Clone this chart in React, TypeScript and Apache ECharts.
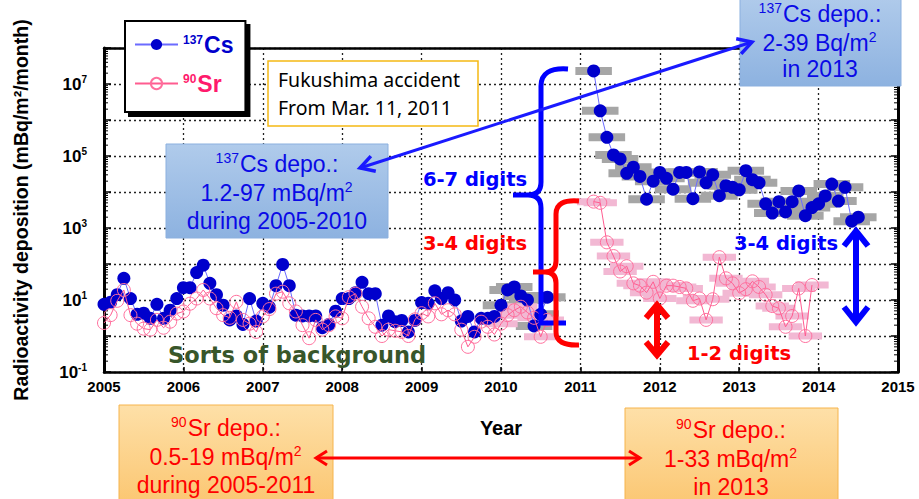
import { useEffect, useRef } from 'react';
import * as echarts from 'echarts';

// ---------------- data ----------------
const xTickYears = [2005, 2006, 2007, 2008, 2009, 2010, 2011, 2012, 2013, 2014, 2015];
const yLabelExponents = [-1, 1, 3, 5, 7];

// monthly deposition (mBq/m2/month), first value = Jan 2005
const bgStartYear = 2005;
const csBackground = [
  7.6, 8.7, 14, 40, 11, 4.0, 4.3, 3.1, 7.6, 3.1, 5.2, 11,
  22, 22, 58, 93, 29, 14, 7.2, 2.8, 3.6, 2.1, 11, 2.6,
  8.1, 6.3, 25, 97, 25, 3.8, 3.6, 3.6, 3.6, 1.7, 2.1, 4.9,
  11, 11, 16, 31, 15, 15, 2.0, 3.6, 2.5, 2.7, 1.3, 2.7,
  8.5, 8.1, 18, 11, 16, 10, 2.6, 3.5, 1.3, 3.1, 3.1, 3.5,
  7.2, 19, 23, 13, 10, 1.9, 4.0, 12,
];
const srBackground = [
  2.3, 3.8, 9.5, 19, 3.8, 2.2, 1.6, 1.5, 2.8, 1.7, 2.5, 4.2,
  4.8, 7.9, 11, 19, 11, 5.9, 3.8, 3.2, 8.9, 2.8, 2.2, 1.3,
  3.5, 5.6, 15, 17, 8.1, 4.8, 2.0, 0.87, 2.8, 1.5, 2.0, 3.5,
  3.1, 12, 15, 6.5, 3.1, 1.8, 1.0, 1.5, 1.4, 1.3, 1.0, 2.9,
  4.3, 3.5, 8.1, 4.0, 5.2, 4.0, 1.5, 0.5, 0.95, 2.5, 1.8, 1.1,
  2.2, 3.8, 5.2, 6.5, 4.5, 3.2, 0.95, 2.8,
];
// first value = Mar 2011
const afterStartYear = 2011 + 2 / 12;
const csAfter = [
  2.3e7, 1.8e6, 3.3e5, 1.07e5, 8.3e4, 3.3e4, 4.9e4, 2.7e4, 6.3e3, 2.0e4,
  3.5e4, 2.4e4, 1.2e4, 3.5e4, 3.5e4, 6.5e3, 3.6e4, 1.8e4, 3.0e4, 7.9e3, 1.5e4, 1.35e4,
  1.15e4, 3.9e4, 2.2e4, 1.8e4, 4.7e3, 2.6e3, 5.4e3, 2.8e3, 5.4e3, 1.07e4, 2.2e3, 3.7e3,
  4.7e3, 7.8e3, 1.66e4, 5.6e3, 1.35e4, 1.55e3, 2.0e3,
];
const srAfter = [
  5400, 5000, 400, 166, 62, 87, 29, 25, 16, 32,
  11, 25, 25, 23, 21, 9.5, 11, 2.8, 10.5, 155, 40, 29,
  15.5, 20, 33, 23, 14, 6.8, 5.9, 1.8, 3.6, 21, 1.0, 26,
];
// background months from which the site-range bars are shown (2010 onward)
const barsFromIndex = 60;

// ---------------- helpers ----------------
const monthly = (start: number, vals: number[]) =>
  vals.map((v, i) => [+(start + i / 12).toFixed(5), v]);

const FONT = "'Liberation Sans', Arial, sans-serif";
const NARROW = "'Liberation Sans Narrow', 'Liberation Sans', Arial, sans-serif";
const WIDE = "'DejaVu Sans', 'Liberation Sans', sans-serif";

let registered = false;
function registerBraces() {
  if (registered) return;
  registered = true;
  echarts.graphic.registerShape(
    'braceBlue',
    echarts.graphic.extendPath(
      'M568 69 Q541 67 541 86 L541 182 Q541 195 528 195 L513 195 M528 195 Q541 195 541 208 L541 323 L566 323',
      {}
    )
  );
  echarts.graphic.registerShape(
    'braceRed',
    echarts.graphic.extendPath(
      'M579 201 Q556 199 556 214 L556 261 Q556 272 545 272 L533 272 M545 272 Q556 272 556 283 L556 332 Q556 346 579 345',
      {}
    )
  );
}

function chevron(tx: number, ty: number, fx: number, fy: number, len: number, half: number) {
  const dx = tx - fx, dy = ty - fy;
  const L = Math.hypot(dx, dy);
  const ux = dx / L, uy = dy / L;
  const bx = tx - ux * len, by = ty - uy * len;
  const px = -uy, py = ux;
  return [[bx + px * half, by + py * half], [tx, ty], [bx - px * half, by - py * half]];
}
function doubleArrow(x1: number, y1: number, x2: number, y2: number, color: string, lw: number, len: number, half: number, hlw: number) {
  const st = { stroke: color, lineWidth: hlw, fill: null, lineJoin: 'miter', lineCap: 'butt' };
  return [
    { type: 'line', z: 60, shape: { x1, y1, x2, y2 }, style: { stroke: color, lineWidth: lw } },
    { type: 'polyline', z: 60, shape: { points: chevron(x1, y1, x2, y2, len, half) }, style: st },
    { type: 'polyline', z: 60, shape: { points: chevron(x2, y2, x1, y1, len, half) }, style: st },
  ];
}
function txt(x: number, y: number, text: string, fill: string, fontSize: number, extra: any = {}) {
  return {
    type: 'text', x, y, z: 70,
    style: {
      text, fill, fontSize, fontFamily: FONT, align: 'center', verticalAlign: 'middle', ...extra,
    },
  };
}
const supRich = (fill: string, big: number, small: number, family = FONT) => ({
  s: { fill, fontSize: small, fontFamily: family, padding: [0, 1, small * 0.9, 0] },
  n: { fill, fontSize: big, fontFamily: family },
});

export default function App() {
  const ref = useRef<HTMLDivElement>(null);
  useEffect(() => {
    if (!ref.current) return;
    registerBraces();
    const chart = echarts.init(ref.current, undefined, { renderer: 'svg' });

    const csBg = monthly(bgStartYear, csBackground);
    const srBg = monthly(bgStartYear, srBackground);
    const csAf = monthly(afterStartYear, csAfter);
    const srAf = monthly(afterStartYear, srAfter);
    const csBars = csBg.slice(barsFromIndex).concat(csAf);
    const srBars = srBg.slice(barsFromIndex).concat(srAf);

    const barRender = (color: string, halfYear: number, h: number) => (params: any, api: any) => {
      const x = api.value(0), v = api.value(1);
      const a = api.coord([x - halfYear, v]);
      const b = api.coord([x + halfYear, v]);
      return {
        type: 'rect',
        shape: { x: a[0], y: a[1] - h / 2, width: b[0] - a[0], height: h },
        style: { fill: color },
      };
    };

    const blueGrad = new echarts.graphic.LinearGradient(0, 0, 0, 1, [
      { offset: 0, color: '#b0cbeb' },
      { offset: 1, color: '#8db2e0' },
    ]);
    const orangeGrad = () =>
      new echarts.graphic.LinearGradient(0, 0, 0, 1, [
        { offset: 0, color: '#fee0a8' },
        { offset: 1, color: '#fbc671' },
      ]);

    const CS_BLUE = '#0a0ae6';
    const SR_RED = '#ff0000';
    const BF = 23; // box font
    const SF = 14; // box superscript font

    const graphic: any[] = [
      // Fukushima box
      { type: 'rect', z: 50, shape: { x: 268, y: 61, width: 210, height: 65 }, style: { fill: '#fff', stroke: '#f5b915', lineWidth: 1.5 } },
      txt(278, 79, 'Fukushima accident', '#000', 19.5, { align: 'left', fontFamily: "'Noto Sans', sans-serif" }),
      txt(278, 107, 'From Mar. 11, 2011', '#000', 19.5, { align: 'left', fontFamily: "'Noto Sans', sans-serif" }),
      // blue box left
      { type: 'rect', z: 50, shape: { x: 166, y: 144, width: 222, height: 94 }, style: { fill: blueGrad, stroke: '#8bb0df', lineWidth: 1 } },
      { type: 'text', x: 277, y: 164, z: 70, style: { text: '{s|137}{n|Cs depo.:}', rich: supRich(CS_BLUE, BF, SF), align: 'center', verticalAlign: 'middle' } },
      { type: 'text', x: 277, y: 193, z: 70, style: { text: '{n|1.2-97 mBq/m}{s|2}', rich: supRich(CS_BLUE, BF, SF), align: 'center', verticalAlign: 'middle' } },
      txt(277, 221, 'during 2005-2010', CS_BLUE, BF),
      // blue box top right
      { type: 'rect', z: 50, shape: { x: 740, y: -4, width: 161, height: 90 }, style: { fill: blueGrad, stroke: '#8bb0df', lineWidth: 1 } },
      { type: 'text', x: 820, y: 14, z: 70, style: { text: '{s|137}{n|Cs depo.:}', rich: supRich(CS_BLUE, BF, SF), align: 'center', verticalAlign: 'middle' } },
      { type: 'text', x: 820, y: 43, z: 70, style: { text: '{n|2-39 Bq/m}{s|2}', rich: supRich(CS_BLUE, BF, SF), align: 'center', verticalAlign: 'middle' } },
      txt(820, 69, 'in 2013', CS_BLUE, BF),
      // orange boxes
      { type: 'rect', z: 50, shape: { x: 119, y: 405, width: 214, height: 100 }, style: { fill: orangeGrad(), stroke: '#f6b44c', lineWidth: 1 } },
      { type: 'text', x: 226, y: 428, z: 70, style: { text: '{s|90}{n|Sr depo.:}', rich: supRich(SR_RED, BF, SF, NARROW), align: 'center', verticalAlign: 'middle' } },
      { type: 'text', x: 226, y: 457, z: 70, style: { text: '{n|0.5-19 mBq/m}{s|2}', rich: supRich(SR_RED, BF, SF, NARROW), align: 'center', verticalAlign: 'middle' } },
      txt(226, 485, 'during 2005-2011', SR_RED, BF, { fontFamily: NARROW }),
      { type: 'rect', z: 50, shape: { x: 625, y: 408, width: 213, height: 100 }, style: { fill: orangeGrad(), stroke: '#f6b44c', lineWidth: 1 } },
      { type: 'text', x: 731, y: 430, z: 70, style: { text: '{s|90}{n|Sr depo.:}', rich: supRich(SR_RED, BF, SF, NARROW), align: 'center', verticalAlign: 'middle' } },
      { type: 'text', x: 731, y: 459, z: 70, style: { text: '{n|1-33 mBq/m}{s|2}', rich: supRich(SR_RED, BF, SF, NARROW), align: 'center', verticalAlign: 'middle' } },
      txt(731, 487, 'in 2013', SR_RED, BF, { fontFamily: NARROW }),
      // braces
      { type: 'braceBlue', x: 0, y: 0, z: 55, style: { stroke: '#0000ff', lineWidth: 5, fill: null } },
      { type: 'braceRed', x: 0, y: 0, z: 56, style: { stroke: '#ff0000', lineWidth: 5, fill: null } },
      // labels
      txt(475, 179, '6-7 digits', '#0000ff', 19.5, { fontWeight: 'bold', fontFamily: WIDE }),
      txt(475, 243, '3-4 digits', '#ff0000', 19.5, { fontWeight: 'bold', fontFamily: WIDE }),
      txt(786, 243, '3-4 digits', '#0000ff', 19.5, { fontWeight: 'bold', fontFamily: WIDE }),
      txt(739, 353, '1-2 digits', '#ff0000', 19.5, { fontWeight: 'bold', fontFamily: WIDE }),
      txt(168, 355, 'Sorts of background', '#38562a', 22.5, { fontWeight: 'bold', align: 'left', fontFamily: WIDE }),
      // arrows
      ...doubleArrow(360, 168, 752, 42, '#1a1aff', 3, 14, 8, 3.5),
      ...doubleArrow(316, 458, 640, 458, '#ff0000', 3, 11, 7, 3),
      ...doubleArrow(657, 305, 657, 355, '#ff0000', 6, 13, 11, 6),
      ...doubleArrow(856, 231, 856, 322, '#0000ff', 6, 15, 12, 6),
    ];

    const option: any = {
      animation: false,
      backgroundColor: '#fff',
      textStyle: { fontFamily: FONT },
      grid: { left: 104, right: 21, top: 48, bottom: 127, containLabel: false, outerBoundsMode: 'none' },
      legend: {
        orient: 'vertical',
        left: 125,
        top: 21,
        padding: [12, 12, 17, 9],
        itemWidth: 43,
        itemHeight: 14,
        itemGap: 16,
        backgroundColor: '#fff',
        borderColor: '#000',
        borderWidth: 2,
        borderRadius: 0,
        shadowColor: '#000',
        shadowBlur: 0,
        shadowOffsetX: 4,
        shadowOffsetY: 4,
        data: ['137Cs', '90Sr'],
        formatter: (name: string) => (name === '137Cs' ? '{cs|137}{cb|Cs}' : '{ss|90}{sb|Sr}'),
        textStyle: {
          rich: {
            cs: { color: '#0000cc', fontSize: 12, fontWeight: 'bold', padding: [0, 1, 10, 0] },
            cb: { color: '#0000cc', fontSize: 23, fontWeight: 'bold' },
            ss: { color: '#ff1a6c', fontSize: 12, fontWeight: 'bold', padding: [0, 1, 10, 0] },
            sb: { color: '#ff1a6c', fontSize: 23, fontWeight: 'bold' },
          },
        },
      },
      xAxis: [
        {
          type: 'value',
          min: 2005,
          max: 2015,
          interval: 1,
          name: 'Year',
          nameLocation: 'middle',
          nameGap: 46,
          nameTextStyle: { fontSize: 20, fontWeight: 'bold', color: '#000', fontFamily: NARROW },
          axisLine: { show: true, onZero: false, lineStyle: { color: '#000', width: 2.5 } },
          axisTick: { show: true, inside: true, length: 5, lineStyle: { color: '#000', width: 1.5 } },
          axisLabel: {
            show: true,
            color: '#000',
            fontSize: 15,
            fontWeight: 'bold',
            fontFamily: NARROW,
            margin: 7,
            formatter: (v: number) => (xTickYears.includes(Math.round(v)) ? String(Math.round(v)) : ''),
          },
          splitLine: { show: true, lineStyle: { color: '#222', width: 1.3, type: [2, 3] } },
        },
        {
          type: 'value',
          position: 'top',
          min: 2005,
          max: 2015,
          interval: 1,
          axisLine: { show: true, onZero: false, lineStyle: { color: '#000', width: 2.5 } },
          axisTick: { show: false },
          axisLabel: { show: false },
          splitLine: { show: false },
        },
      ],
      yAxis: [
        {
          type: 'log',
          logBase: 10,
          min: 0.1,
          max: 1e8,
          name: 'Radioactivity deposition (mBq/m²/month)',
          nameLocation: 'middle',
          nameGap: 73,
          nameRotate: 90,
          nameTextStyle: { fontSize: 19.5, fontWeight: 'bold', color: '#000' },
          axisLine: { show: true, onZero: false, lineStyle: { color: '#000', width: 3 } },
          axisTick: { show: true, inside: true, length: 7, lineStyle: { color: '#000', width: 1.5 } },
          axisLabel: {
            show: true,
            margin: 17,
            formatter: (v: number) => {
              const e = Math.round(Math.log10(v));
              if (!yLabelExponents.includes(e)) return '';
              return '{b|10}{s|' + e + '}';
            },
            rich: {
              b: { fontSize: 17, fontWeight: 'bold', color: '#000' },
              s: { fontSize: 10, fontWeight: 'bold', color: '#000', padding: [0, 0, 10, 0] },
            },
          },
          splitLine: { show: true, lineStyle: { color: '#222', width: 1.3, type: [2, 3] } },
        },
        {
          type: 'log',
          logBase: 10,
          min: 0.1,
          max: 1e8,
          position: 'right',
          axisLine: { show: true, onZero: false, lineStyle: { color: '#000', width: 3 } },
          axisTick: { show: true, inside: true, length: 7, lineStyle: { color: '#000', width: 1.5 } },
          axisLabel: { show: false },
          splitLine: { show: false },
        },
      ],
      graphic,
      series: [
        {
          // logarithmic minor ticks on both frame sides
          type: 'custom',
          silent: true,
          z: 1,
          data: [-1, 0, 1, 2, 3, 4, 5, 6, 7].map((d) => [2005, Math.pow(10, d)]),
          renderItem: (params: any, api: any) => {
            const base = api.value(1);
            const cs = params.coordSys;
            const children: any[] = [];
            for (let k = 2; k <= 9; k++) {
              const y = api.coord([2005, base * k])[1];
              children.push({ type: 'line', shape: { x1: cs.x, y1: y, x2: cs.x + 4, y2: y }, style: { stroke: '#000', lineWidth: 1 } });
              children.push({ type: 'line', shape: { x1: cs.x + cs.width - 4, y1: y, x2: cs.x + cs.width, y2: y }, style: { stroke: '#000', lineWidth: 1 } });
            }
            return { type: 'group', children };
          },
        },
        {
          type: 'custom',
          name: 'Cs range',
          silent: true,
          z: 2,
          data: csBars,
          encode: { x: 0, y: 1 },
          renderItem: barRender('#a6a6a6', 0.23, 8),
        },
        {
          type: 'custom',
          name: 'Sr range',
          silent: true,
          z: 2,
          data: srBars,
          encode: { x: 0, y: 1 },
          renderItem: barRender('#f2b8d3', 0.21, 7),
        },
        {
          type: 'line',
          name: '137Cs',
          data: csBg,
          z: 3,
          symbol: 'circle',
          symbolSize: 13,
          itemStyle: { color: '#0000cc' },
          lineStyle: { color: '#6b6bff', width: 1 },
        },
        {
          type: 'line',
          name: '137Cs',
          data: csAf,
          z: 3,
          symbol: 'circle',
          symbolSize: 13,
          itemStyle: { color: '#0000cc' },
          lineStyle: { color: '#6b6bff', width: 1 },
        },
        {
          type: 'line',
          name: '90Sr',
          data: srBg,
          z: 4,
          symbol: 'circle',
          symbolSize: 13,
          itemStyle: { color: 'rgba(255,255,255,0)', borderColor: '#ff6f9d', borderWidth: 1 },
          lineStyle: { color: '#ff5c90', width: 1 },
        },
        {
          type: 'line',
          name: '90Sr',
          data: srAf,
          z: 4,
          symbol: 'circle',
          symbolSize: 13,
          itemStyle: { color: 'rgba(255,255,255,0)', borderColor: '#ff6f9d', borderWidth: 1 },
          lineStyle: { color: '#ff5c90', width: 1 },
        },
      ],
    };
    chart.setOption(option);
    return () => chart.dispose();
  }, []);

  return <div ref={ref} style={{ position: 'absolute', left: 0, top: 0, width: 919, height: 499 }} />;
}
